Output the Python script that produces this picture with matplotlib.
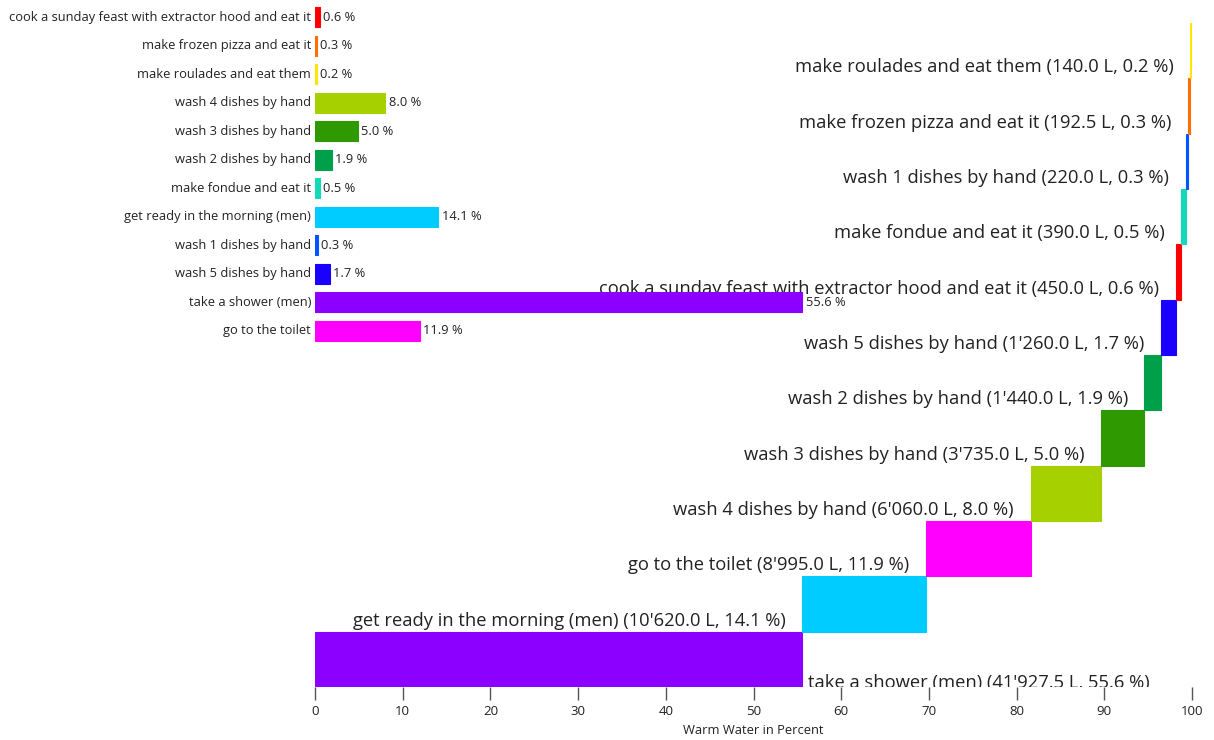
import matplotlib
matplotlib.use("Agg")
import matplotlib.pyplot as plt
import numpy as np

plt.rcParams['font.family'] = ['Open Sans', 'DejaVu Sans']

# waterfall order, bottom to top
activities = ["take a shower (men)", "get ready in the morning (men)", "go to the toilet",
              "wash 4 dishes by hand", "wash 3 dishes by hand", "wash 2 dishes by hand",
              "wash 5 dishes by hand", "cook a sunday feast with extractor hood and eat it",
              "make fondue and eat it", "wash 1 dishes by hand", "make frozen pizza and eat it",
              "make roulades and eat them"]
liters = [41927.5, 10620.0, 8995.0, 6060.0, 3735.0, 1440.0, 1260.0, 450.0, 390.0, 220.0, 192.5, 140.0]
colors = ["#8c00ff", "#00ccff", "#ff00ff", "#a6d000", "#2e9900", "#00a04a",
          "#1a00ff", "#ff0000", "#14d9b8", "#0055ff", "#ff6f00", "#ffe500"]

# small bar chart order, top to bottom
small_order = ["cook a sunday feast with extractor hood and eat it", "make frozen pizza and eat it",
               "make roulades and eat them", "wash 4 dishes by hand", "wash 3 dishes by hand",
               "wash 2 dishes by hand", "make fondue and eat it", "get ready in the morning (men)",
               "wash 1 dishes by hand", "wash 5 dishes by hand", "take a shower (men)", "go to the toilet"]

liters = np.array(liters)
pct = liters / liters.sum() * 100
left = np.concatenate([[0], np.cumsum(pct)[:-1]])
color_of = dict(zip(activities, colors))
pct_of = dict(zip(activities, pct))


def fmt_l(v):
    return "{:,.1f}".format(v).replace(",", "'")


fig = plt.figure(figsize=(12.14, 7.4), dpi=100)
ax = fig.add_axes([315 / 1214, 1 - 687 / 740, 877 / 1214, 664 / 740])
ypos = np.arange(len(activities))
ax.barh(ypos, pct, left=left, height=1.0, align='edge', color=colors,
        edgecolor=colors, linewidth=0.8)
for i, (name, l, p, x0) in enumerate(zip(activities, liters, pct, left)):
    lab = "{} ({} L, {:.1f} %)".format(name, fmt_l(l), p)
    if x0 < 1:
        ax.annotate(lab, (x0 + p, i + 0.07), xytext=(4, 0), textcoords='offset points',
                    ha='left', va='center', fontsize=13.2, color='#222222', clip_on=True,
                    annotation_clip=True)
    else:
        ax.annotate(lab, (x0, i + 0.2), xytext=(-12, 0), textcoords='offset points',
                    ha='right', va='center', fontsize=13.2, color='#222222')
ax.set_xlim(0, 100)
ax.set_ylim(0, len(activities))
ax.set_yticks([])
for s in ax.spines.values():
    s.set_visible(False)
ax.set_xticks(np.arange(0, 101, 10))
ax.tick_params(axis='x', length=9, width=1, color='#555555', labelsize=9.5, pad=4,
               labelcolor='#222222', direction='out')
ax.set_xlabel("Warm Water in Percent", fontsize=9.3, color='#222222', labelpad=4)

# small overview chart in the upper left
ax2 = fig.add_axes([315 / 1214, 1 - 345 / 740, 877 / 1214, 342 / 740], facecolor='none')
yy = np.arange(len(small_order))
vals = [pct_of[n] for n in small_order]
small_colors = [color_of[n] for n in small_order]
ax2.barh(yy, vals, height=0.7, color=small_colors, edgecolor=small_colors, linewidth=0.8)
for y, n, v in zip(yy, small_order, vals):
    ax2.text(-0.45, y, n, ha='right', va='center', fontsize=9.3, color='#222222')
    ax2.text(v + 0.35, y, "{:.1f} %".format(v), ha='left', va='center', fontsize=9.3, color='#222222')
ax2.set_xlim(0, 100)
ax2.set_ylim(len(small_order) - 0.5, -0.5)
ax2.axis('off')

fig.savefig("out.png", dpi=100)
